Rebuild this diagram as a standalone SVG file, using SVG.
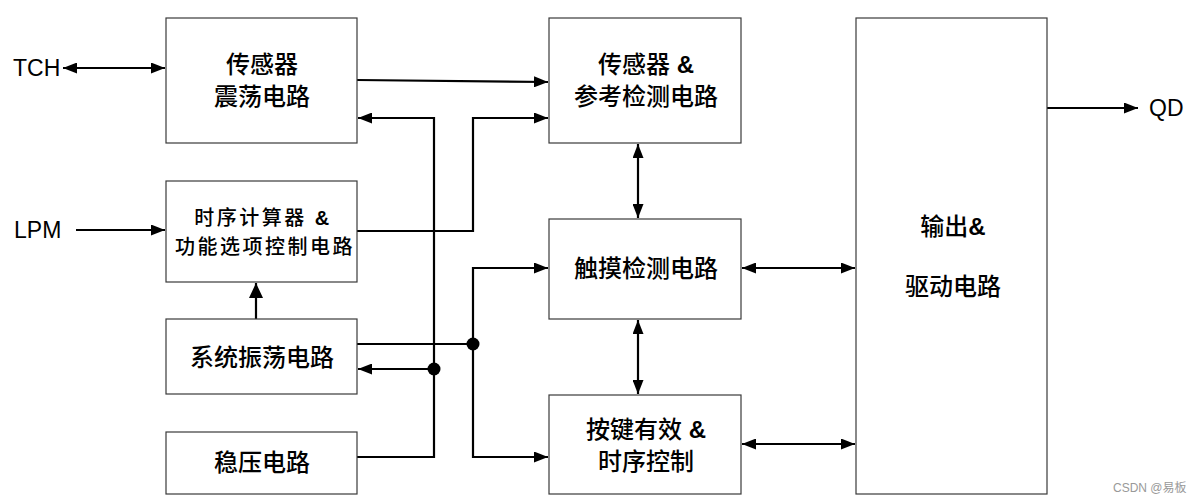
<svg xmlns="http://www.w3.org/2000/svg" width="1196" height="503" viewBox="0 0 1196 503">
<style>
.box{fill:#fff;stroke:#3a3a3a;stroke-width:1.2}
.t{font-family:"Liberation Sans","Noto Sans CJK SC",sans-serif;font-size:24px;font-weight:500;fill:#000;text-anchor:middle}
.s{font-size:20px;letter-spacing:2.5px}
.b{font-weight:bold}
.lbl{font-family:"Liberation Sans",sans-serif;font-size:23px;fill:#000}
.c{fill:none;stroke:#000;stroke-width:2.2}
.wm{font-family:"Liberation Sans","Noto Sans CJK SC",sans-serif;font-size:12px;fill:#999}
</style>
<defs>
<marker id="a" markerUnits="userSpaceOnUse" viewBox="0 0 14 11" refX="14" refY="5.5" markerWidth="14" markerHeight="11" orient="auto-start-reverse">
<path d="M0,0 L14,5.5 L0,11 Z" fill="#000"/>
</marker>
<marker id="big" markerUnits="userSpaceOnUse" viewBox="0 0 15 14" refX="15" refY="7" markerWidth="15" markerHeight="14" orient="auto">
<path d="M0,0 L15,7 L0,14 Z" fill="#000"/>
</marker>
</defs>
<rect width="1196" height="503" fill="#fff"/>
<g id="connectors">
<path class="c" d="M63,68 H165" marker-start="url(#a)" marker-end="url(#a)"/>
<path class="c" d="M76,230 H165" marker-end="url(#a)"/>
<path class="c" d="M357,80 L548,82" marker-end="url(#a)"/>
<path class="c" d="M357,457 H434 V118 H358" marker-end="url(#a)"/>
<path class="c" d="M434,369 H358" marker-end="url(#a)"/>
<path class="c" d="M357,231 H473 V118 H548" marker-end="url(#a)"/>
<path class="c" d="M357,344 H473"/>
<path class="c" d="M473,344 V268 H548" marker-end="url(#a)"/>
<path class="c" d="M473,344 V457 H548" marker-end="url(#a)"/>
<path class="c" d="M256,319 V283" stroke-width="3.5" marker-end="url(#big)"/>
<path class="c" d="M638,144 V218" marker-start="url(#a)" marker-end="url(#a)"/>
<path class="c" d="M638,320 V394" marker-start="url(#a)" marker-end="url(#a)"/>
<path class="c" d="M742,268 H855" marker-start="url(#a)" marker-end="url(#a)"/>
<path class="c" d="M742,444 H855" marker-start="url(#a)" marker-end="url(#a)"/>
<path class="c" d="M1047,108 H1138" marker-end="url(#a)"/>
<circle cx="434" cy="369" r="6.5" fill="#000"/>
<circle cx="473" cy="344" r="6.5" fill="#000"/>
</g>
<g id="tch"><text class="lbl" x="13" y="76">TCH</text></g>
<g id="lpm"><text class="lbl" x="14" y="238">LPM</text></g>
<g id="qd"><text class="lbl" x="1149" y="116">QD</text></g>
<g id="n1">
<rect class="box" x="166" y="18" width="191" height="125"/>
<text class="t" x="262" y="73">传感器</text>
<text class="t" x="262" y="105">震荡电路</text>
</g>
<g id="n2">
<rect class="box" x="166" y="181" width="191" height="101"/>
<text class="t s" x="263" y="225">时序计算器 <tspan class="b">&amp;</tspan></text>
<text class="t s" x="265" y="254">功能选项控制电路</text>
</g>
<g id="n3">
<rect class="box" x="166" y="319" width="191" height="75"/>
<text class="t" x="262" y="366">系统振荡电路</text>
</g>
<g id="n4">
<rect class="box" x="166" y="432" width="191" height="62"/>
<text class="t" x="262" y="471">稳压电路</text>
</g>
<g id="n5">
<rect class="box" x="549" y="18" width="192" height="125"/>
<text class="t" x="646" y="73">传感器 <tspan class="b">&amp;</tspan></text>
<text class="t" x="646" y="105">参考检测电路</text>
</g>
<g id="n6">
<rect class="box" x="549" y="219" width="192" height="100"/>
<text class="t" x="646" y="277">触摸检测电路</text>
</g>
<g id="n7">
<rect class="box" x="549" y="395" width="192" height="99"/>
<text class="t" x="646" y="438">按键有效 <tspan class="b">&amp;</tspan></text>
<text class="t" x="646" y="470">时序控制</text>
</g>
<g id="n8">
<rect class="box" x="856" y="18" width="191" height="476"/>
<text class="t" x="953" y="235">输出<tspan class="b">&amp;</tspan></text>
<text class="t" x="953" y="295">驱动电路</text>
</g>
<text class="wm" x="1113" y="492">CSDN @易板</text>
</svg>
